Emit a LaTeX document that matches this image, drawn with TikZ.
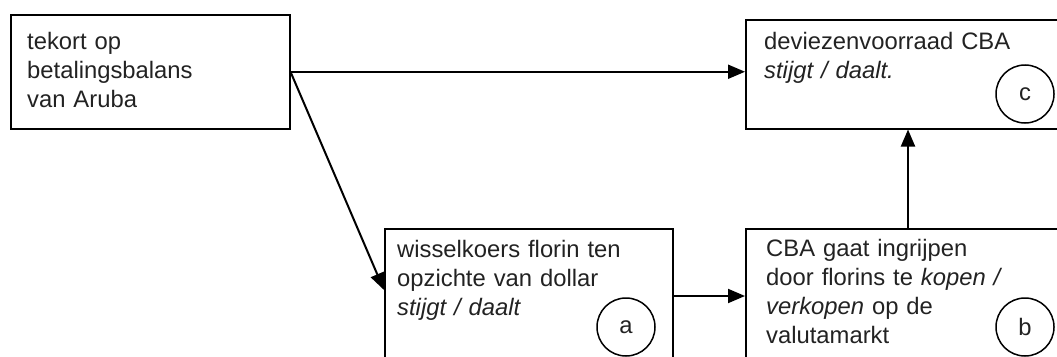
\documentclass[tikz,border=0pt]{standalone}
\usepackage{fontspec}
\setmainfont{Liberation Sans}
\usetikzlibrary{arrows.meta,calc}
\definecolor{txtcol}{HTML}{222222}
\tikzset{
  box/.style={draw=black, line width=1.5pt, rectangle, inner sep=0pt, anchor=north west},
  txt/.style={anchor=base west, inner sep=0pt, align=left, text width=#1, text=txtcol,
    font=\fontsize{23.8pt}{29pt}\selectfont},
  lbl/.style={draw=black, line width=1.5pt, circle, minimum size=58pt, inner sep=0pt, text=txtcol,
    font=\fontsize{23.8pt}{29pt}\selectfont},
  arr/.style={draw=black, line width=2pt, -{Triangle[length=17pt,width=14pt]}}
}
\begin{document}
\begin{tikzpicture}[x=1pt,y=-1pt]
\useasboundingbox (0,0) rectangle (1057,356);
\clip (0,0) rectangle (1057,356);
% boxes
\node[box, minimum width=279pt, minimum height=114pt] (b1) at (10,14) {};
\node[box, minimum width=340pt, minimum height=109pt] (bc) at (745,19) {};
\node[box, minimum width=288pt, minimum height=150pt] (ba) at (384,228) {};
\node[box, minimum width=340pt, minimum height=150pt] (bb) at (745,228) {};
% texts
\node[txt=260pt] (t1) at (27,49) {tekort op\\betalingsbalans\\van Aruba};
\node[txt=290pt] (tc) at (764,49) {deviezenvoorraad CBA\\\textit{stijgt / daalt.}};
\node[txt=280pt] (ta) at (397,257) {wisselkoers florin ten\\opzichte van dollar\\\textit{stijgt / daalt}};
\node[txt=290pt] (tb) at (766,256.5) {CBA gaat ingrijpen\\door florins te \textit{kopen /}\\\textit{verkopen} op de\\valutamarkt};
% circles
\node[lbl] (cc) at (1025,94) {c};
\node[lbl] (ca) at (626,327) {a};
\node[lbl] (cb) at (1025,327) {b};
% connectors
\coordinate (p1) at (b1.east);
\draw[arr] (p1) -- (bc.west |- p1);
\draw[arr] (p1) -- (ba.west |- 0,290);
\draw[arr] (ba.east |- 0,296) -- (bb.west |- 0,296);
\draw[arr] (bb.north -| 908,0) -- (bc.south -| 908,0);
\end{tikzpicture}
\end{document}
